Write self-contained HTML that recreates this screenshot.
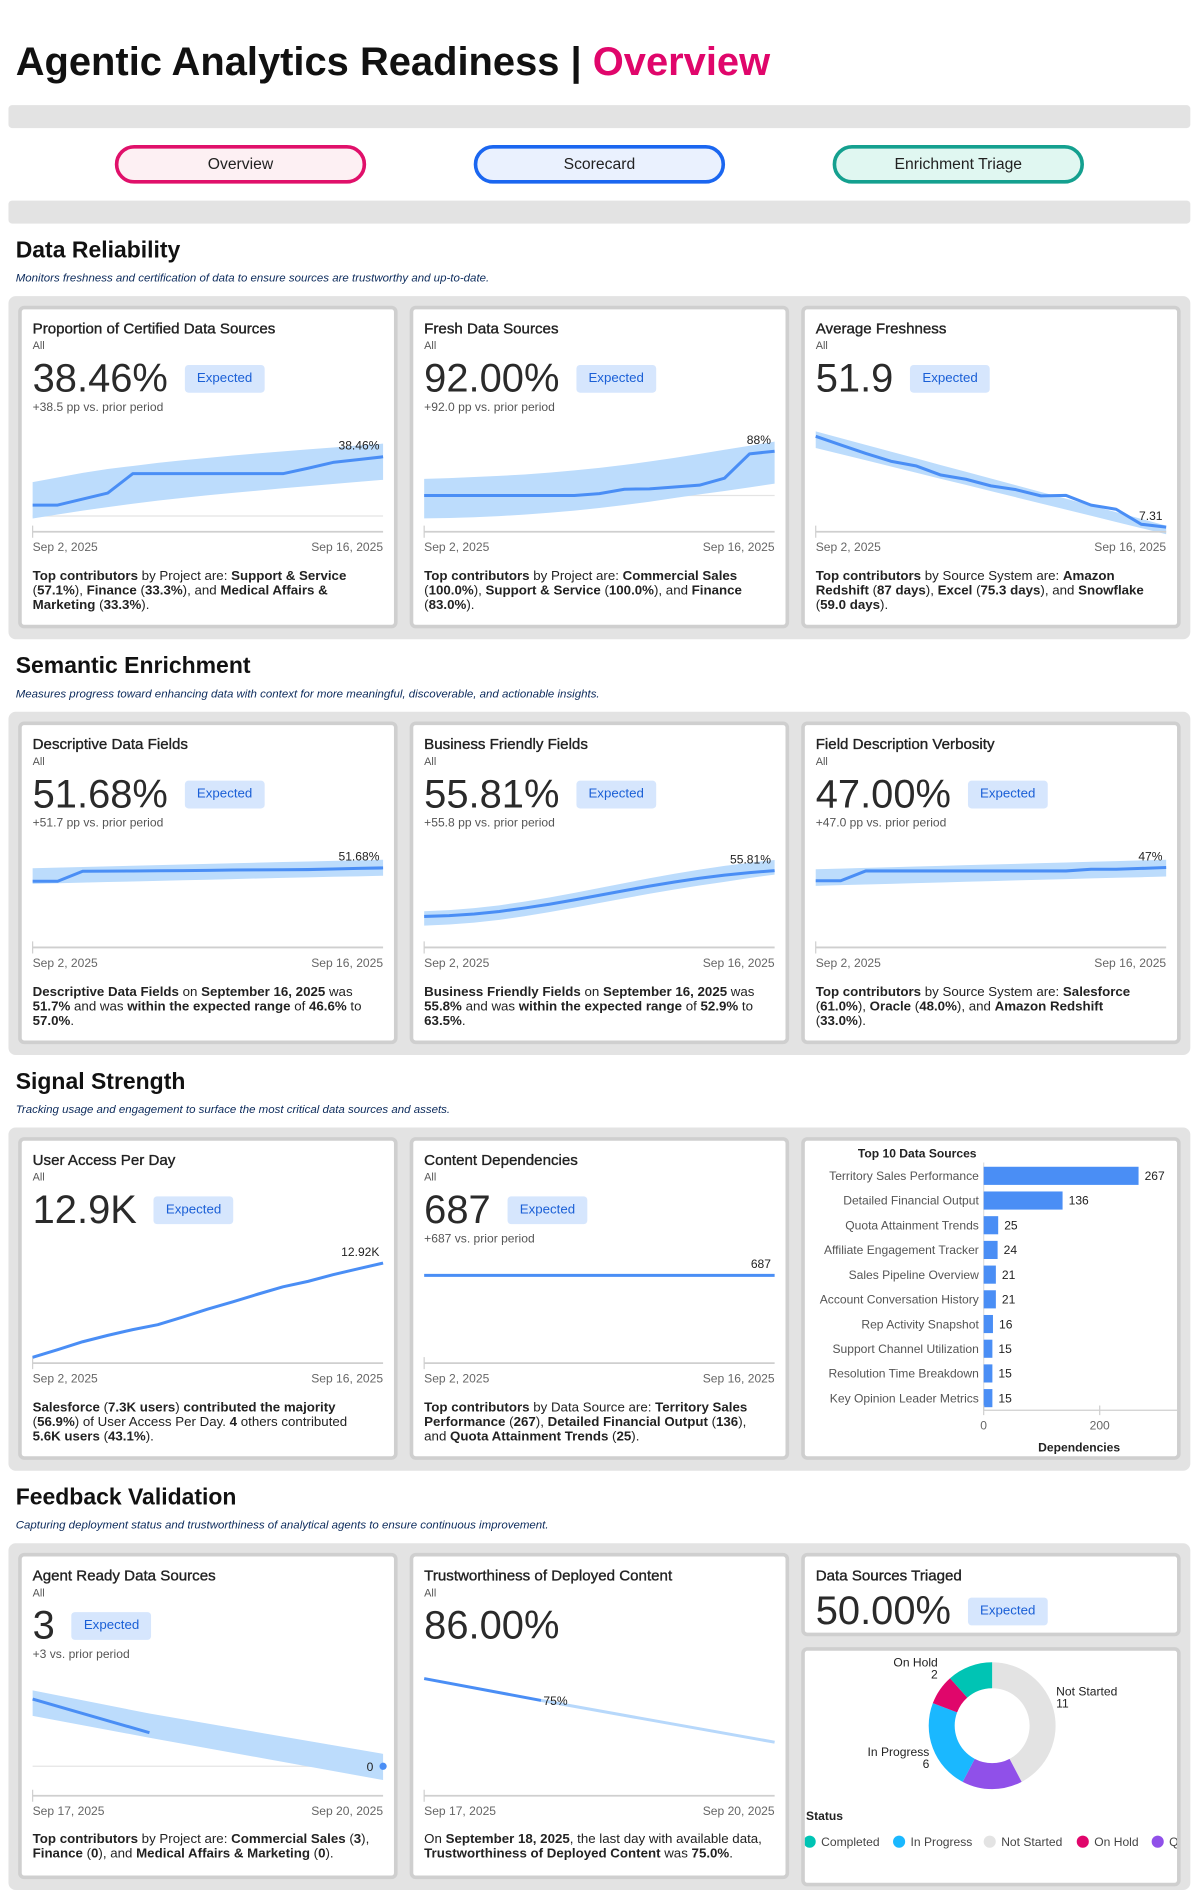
<!DOCTYPE html>
<html><head><meta charset="utf-8"><title>Agentic Analytics Readiness | Overview</title>
<style>
html,body{margin:0;padding:0;background:#fff;width:1200px;height:1896px;overflow:hidden}
#stage{position:absolute;left:0;top:0;width:993px;height:1569px;transform:scale(1.208459);transform-origin:0 0;font-family:"Liberation Sans",Arial,sans-serif;color:#222}
.abs{position:absolute}
.h1{left:13px;top:31px;font-size:33px;font-weight:bold;color:#111;white-space:nowrap;line-height:40px}
.h1 span{color:#e0066b}
.bar{left:7px;width:978px;height:19px;background:#e3e3e3;border-radius:3px}
.btn{top:120px;width:208px;height:32px;box-sizing:border-box;border:3px solid;border-radius:16px;font-size:13px;line-height:26px;text-align:center;color:#222}
.sh{left:13px;font-size:19px;font-weight:bold;line-height:22px;color:#111}
.ss{left:13px;font-size:9.5px;font-style:italic;color:#0b2a5b;line-height:12px}
.sec{left:7px;width:978px;background:#e3e3e3;border-radius:6px}
.card{position:absolute;background:#fff;border:3px solid #cfcfcf;border-radius:5px;box-sizing:border-box;overflow:hidden;width:314px}
.card svg{position:absolute;left:-3px;top:-3px;overflow:hidden}
.ct{position:absolute;left:9px;top:8px;font-size:12.5px;line-height:16px;color:#222;-webkit-text-stroke:0.3px #222;white-space:nowrap}
.ca{position:absolute;left:9px;top:24.5px;font-size:9px;line-height:11px;color:#555}
.cb{position:absolute;left:9px;top:41px;height:32px;display:flex;align-items:center;white-space:nowrap}
.num{font-size:33px;line-height:32px;color:#2a2a2a}
.badge{margin-left:14px;height:23px;padding:0 10px;background:#d6e6fd;border-radius:3px;color:#1a5fd6;font-size:11px;line-height:23px}
.csub{position:absolute;left:9px;top:76px;font-size:10px;line-height:12px;color:#555;white-space:nowrap}
.cd{position:absolute;left:9px;top:215px;font-size:11px;line-height:12px;color:#222;white-space:nowrap}
.cd b{color:#222}
</style></head>
<body>
<div id="stage">
<div class="abs h1">Agentic Analytics Readiness | <span>Overview</span></div>
<div class="abs bar" style="top:87px"></div>
<div class="abs btn" style="left:95px;border-color:#e0106a;background:#fdf0f3">Overview</div>
<div class="abs btn" style="left:392px;border-color:#1a66f0;background:#eaf1fe">Scorecard</div>
<div class="abs btn" style="left:689px;border-color:#14a08f;background:#e0f7f1">Enrichment Triage</div>
<div class="abs bar" style="top:166px"></div>

<!-- Section 1 -->
<div class="abs sh" style="top:197px">Data Reliability</div>
<div class="abs ss" style="top:225px">Monitors freshness and certification of data to ensure sources are trustworthy and up-to-date.</div>
<div class="abs sec" style="top:245px;height:284px"></div>

<div class="card" style="left:15px;top:253px;height:267px">
<div class="ct">Proportion of Certified Data Sources</div>
<div class="ca">All</div>
<div class="cb"><span class="num">38.46%</span><span class="badge">Expected</span></div>
<div class="csub">+38.5 pp vs. prior period</div>
<svg id="c1"></svg>
<div class="cd"><b>Top contributors</b> by Project are: <b>Support &amp; Service</b><br>(<b>57.1%</b>), <b>Finance</b> (<b>33.3%</b>), and <b>Medical Affairs &amp;</b><br><b>Marketing</b> (<b>33.3%</b>).</div>
</div>

<div class="card" style="left:339px;top:253px;height:267px">
<div class="ct">Fresh Data Sources</div>
<div class="ca">All</div>
<div class="cb"><span class="num">92.00%</span><span class="badge">Expected</span></div>
<div class="csub">+92.0 pp vs. prior period</div>
<svg id="c2"></svg>
<div class="cd"><b>Top contributors</b> by Project are: <b>Commercial Sales</b><br>(<b>100.0%</b>), <b>Support &amp; Service</b> (<b>100.0%</b>), and <b>Finance</b><br>(<b>83.0%</b>).</div>
</div>

<div class="card" style="left:663px;top:253px;height:267px">
<div class="ct">Average Freshness</div>
<div class="ca">All</div>
<div class="cb"><span class="num">51.9</span><span class="badge">Expected</span></div>
<svg id="c3"></svg>
<div class="cd"><b>Top contributors</b> by Source System are: <b>Amazon</b><br><b>Redshift</b> (<b>87 days</b>), <b>Excel</b> (<b>75.3 days</b>), and <b>Snowflake</b><br>(<b>59.0 days</b>).</div>
</div>

<!-- Section 2 -->
<div class="abs sh" style="top:541px">Semantic Enrichment</div>
<div class="abs ss" style="top:569px">Measures progress toward enhancing data with context for more meaningful, discoverable, and actionable insights.</div>
<div class="abs sec" style="top:589px;height:284px"></div>

<div class="card" style="left:15px;top:597px;height:267px">
<div class="ct">Descriptive Data Fields</div>
<div class="ca">All</div>
<div class="cb"><span class="num">51.68%</span><span class="badge">Expected</span></div>
<div class="csub">+51.7 pp vs. prior period</div>
<svg id="c4"></svg>
<div class="cd"><b>Descriptive Data Fields</b> on <b>September 16, 2025</b> was<br><b>51.7%</b> and was <b>within the expected range</b> of <b>46.6%</b> to<br><b>57.0%</b>.</div>
</div>

<div class="card" style="left:339px;top:597px;height:267px">
<div class="ct">Business Friendly Fields</div>
<div class="ca">All</div>
<div class="cb"><span class="num">55.81%</span><span class="badge">Expected</span></div>
<div class="csub">+55.8 pp vs. prior period</div>
<svg id="c5"></svg>
<div class="cd"><b>Business Friendly Fields</b> on <b>September 16, 2025</b> was<br><b>55.8%</b> and was <b>within the expected range</b> of <b>52.9%</b> to<br><b>63.5%</b>.</div>
</div>

<div class="card" style="left:663px;top:597px;height:267px">
<div class="ct">Field Description Verbosity</div>
<div class="ca">All</div>
<div class="cb"><span class="num">47.00%</span><span class="badge">Expected</span></div>
<div class="csub">+47.0 pp vs. prior period</div>
<svg id="c6"></svg>
<div class="cd"><b>Top contributors</b> by Source System are: <b>Salesforce</b><br>(<b>61.0%</b>), <b>Oracle</b> (<b>48.0%</b>), and <b>Amazon Redshift</b><br>(<b>33.0%</b>).</div>
</div>

<!-- Section 3 -->
<div class="abs sh" style="top:885px">Signal Strength</div>
<div class="abs ss" style="top:913px">Tracking usage and engagement to surface the most critical data sources and assets.</div>
<div class="abs sec" style="top:933px;height:284px"></div>

<div class="card" style="left:15px;top:941px;height:267px">
<div class="ct">User Access Per Day</div>
<div class="ca">All</div>
<div class="cb"><span class="num">12.9K</span><span class="badge">Expected</span></div>
<svg id="c7"></svg>
<div class="cd"><b>Salesforce</b> (<b>7.3K users</b>) <b>contributed the majority</b><br>(<b>56.9%</b>) of User Access Per Day. <b>4</b> others contributed<br><b>5.6K users</b> (<b>43.1%</b>).</div>
</div>

<div class="card" style="left:339px;top:941px;height:267px">
<div class="ct">Content Dependencies</div>
<div class="ca">All</div>
<div class="cb"><span class="num">687</span><span class="badge">Expected</span></div>
<div class="csub">+687 vs. prior period</div>
<svg id="c8"></svg>
<div class="cd"><b>Top contributors</b> by Data Source are: <b>Territory Sales</b><br><b>Performance</b> (<b>267</b>), <b>Detailed Financial Output</b> (<b>136</b>),<br>and <b>Quota Attainment Trends</b> (<b>25</b>).</div>
</div>

<div class="card" style="left:663px;top:941px;height:267px">
<svg id="bars"></svg>
</div>

<!-- Section 4 -->
<div class="abs sh" style="top:1229px">Feedback Validation</div>
<div class="abs ss" style="top:1257px">Capturing deployment status and trustworthiness of analytical agents to ensure continuous improvement.</div>
<div class="abs sec" style="top:1277px;height:287px"></div>

<div class="card" style="left:15px;top:1285px;height:270px">
<div class="ct">Agent Ready Data Sources</div>
<div class="ca">All</div>
<div class="cb"><span class="num">3</span><span class="badge">Expected</span></div>
<div class="csub">+3 vs. prior period</div>
<svg id="c9"></svg>
<div class="cd" style="top:228px"><b>Top contributors</b> by Project are: <b>Commercial Sales</b> (<b>3</b>),<br><b>Finance</b> (<b>0</b>), and <b>Medical Affairs &amp; Marketing</b> (<b>0</b>).</div>
</div>

<div class="card" style="left:339px;top:1285px;height:270px">
<div class="ct">Trustworthiness of Deployed Content</div>
<div class="ca">All</div>
<div class="cb"><span class="num">86.00%</span></div>
<svg id="c10"></svg>
<div class="cd" style="top:228px">On <b>September 18, 2025</b>, the last day with available data,<br><b>Trustworthiness of Deployed Content</b> was <b>75.0%</b>.</div>
</div>

<div class="card" style="left:663px;top:1285px;height:69px">
<div class="ct">Data Sources Triaged</div>
<div class="cb" style="top:29px"><span class="num">50.00%</span><span class="badge">Expected</span></div>
</div>

<div class="card" style="left:663px;top:1363px;height:198px">
<svg id="donut"></svg>
</div>
</div>

<script>
// ---------- sparkline data ----------
const certifiedVals = [7.1,7.1,11,14.9,27.5,27.5,27.5,27.5,27.5,27.5,27.5,31,34.8,36.6,38.46];
const certifiedHi = [22,25,28,30.5,32.5,34.5,36.2,37.8,39.3,40.7,42,43.3,44.5,45.8,47];
const certifiedLo = [-1.6,1,3.5,5.8,8,10,11.8,13.5,15,16.5,18,19.4,20.8,22.2,23.5];
const freshVals = [76,76,76,76,76,76,76,76.5,77.7,77.8,78.3,78.8,80.7,87.3,88];
const freshHi = [80.5,80.7,81,81.3,81.7,82.2,82.8,83.5,84.3,85.2,86.2,87.3,88.4,89.5,90.6];
const freshLo = [69.8,69.9,70.1,70.4,70.8,71.3,71.9,72.6,73.4,74.3,75.3,76.3,77.2,78.2,79.2];
const freshnessVals = [113,102.9,93.1,84,78.6,67.9,63,55.3,50.9,43.7,44.2,32.9,28.1,10.7,7.31];
const freshnessHi = [118.7,110.9,103,95.2,87.4,79.5,71.7,63.9,56,48.2,40.4,32.5,24.7,16.9,9];
const freshnessLo = [99.4,92.2,85.1,77.9,70.7,63.5,56.4,49.2,42,34.8,27.7,20.5,13.3,6.2,-1];
const descriptiveVals = [43,43,49.5,49.6,49.7,49.8,49.9,50.1,50.3,50.4,50.5,50.6,51,51.4,51.68];
const descriptiveHi = [51.5,51.9,52.3,52.7,53.1,53.5,53.9,54.3,54.7,55.1,55.5,55.9,56.3,56.6,57];
const descriptiveLo = [41.3,41.7,42.1,42.5,42.8,43.2,43.6,44,44.4,44.8,45.2,45.5,45.9,46.2,46.6];
const businessVals = [22.4,23,24.2,26,28.5,31.3,34.5,37.8,41.2,44.5,47.5,50.2,52.5,54.3,55.81];
const businessHi = [26.2,27,28.5,30.5,33.2,36.2,39.6,43.1,46.7,50.2,53.5,56.5,59.2,61.5,63.5];
const businessLo = [15.7,16.5,17.9,19.9,22.5,25.5,28.8,32.2,35.6,38.9,42,44.9,47.6,50.4,52.9];
const verbosityVals = [39.2,39.2,45,45,45,45,45,45,45,45,45,46,46,46.5,47];
const verbosityHi = [46,46.4,46.8,47.2,47.6,48,48.4,48.8,49.2,49.6,50,50.4,50.8,51.2,51.6];
const verbosityLo = [36.2,36.6,37,37.4,37.8,38.2,38.6,39,39.4,39.8,40.2,40.6,41,41.3,41.7];
const userAccessVals = [7,7.48,7.98,8.38,8.74,9.05,9.53,10.03,10.49,10.97,11.43,11.77,12.19,12.56,12.92];
const dependencyVals = [687,687,687,687,687,687,687,687,687,687,687,687,687,687,687];
const agentReadyVals = [2,1,null,0];
const agentReadyHi = [2.26,1.57,0.97,0.37];
const agentReadyLo = [1.5,0.85,0.22,-0.41];
const trustVals = [97,75,null,null];
const trustProjection = [null,75,54,33];
const dateLabels15 = ["Sep 2, 2025","Sep 16, 2025"];
const dateLabels4 = ["Sep 17, 2025","Sep 20, 2025"];
const endLabels = ["38.46%","88%","7.31","51.68%","55.81%","47%","12.92K","687","0","75%"];

// ---------- bar chart data ----------
const sourceNames = ["Territory Sales Performance","Detailed Financial Output","Quota Attainment Trends","Affiliate Engagement Tracker","Sales Pipeline Overview","Account Conversation History","Rep Activity Snapshot","Support Channel Utilization","Resolution Time Breakdown","Key Opinion Leader Metrics"];
const sourceDeps = [267,136,25,24,21,21,16,15,15,15];
const depTicks = [0,200];

// ---------- donut data ----------
const statusNames = ["Completed","In Progress","Not Started","On Hold","Q"];
const statusCounts = [3,6,11,2,4];
const statusArcOrder = ["Not Started","Q","In Progress","On Hold","Completed"];
const statusLabelled = ["On Hold","Not Started","In Progress"];

const NS = "http://www.w3.org/2000/svg";
const BLUE = "#4a8ef5", BAND = "#bcdcfc";
function mk(parent, tag, attrs){ const e=document.createElementNS(NS,tag); for(const k in attrs) e.setAttribute(k,attrs[k]); parent.appendChild(e); return e; }

function spark(id, cx, cy, cfg){
  const svg=document.getElementById(id);
  svg.setAttribute('width',314); svg.setAttribute('height',cfg.h||267);
  svg.setAttribute('viewBox',cx+' '+cy+' 314 '+(cfg.h||267));
  const n=cfg.vals.length, x0=cx+12, x1=cx+302;
  const xs=i=>x0+i*(x1-x0)/(n-1);
  const ys=v=>cy+cfg.p0+(v-cfg.d0)*(cfg.p1-cfg.p0)/(cfg.d1-cfg.d0);
  if(cfg.grid!==undefined){
    const g=mk(svg,'line',{x1:x0,x2:x1,y1:ys(cfg.grid),y2:ys(cfg.grid),stroke:'#e4e4e4','stroke-width':1});
     
  }
  if(cfg.hi&&cfg.hi.length){
    let pts=cfg.hi.map((v,i)=>xs(i)+','+ys(v));
    pts=pts.concat(cfg.lo.map((v,i)=>xs(i)+','+ys(v)).reverse());
    const b=mk(svg,'polygon',{points:pts.join(' '),fill:BAND});
     
  }
  const ax=cy+cfg.axis;
  const a=mk(svg,'line',{x1:x0,x2:x1,y1:ax,y2:ax,stroke:'#cfcfcf','stroke-width':1.5});
   
  mk(svg,'line',{x1:x0,x2:x0,y1:ax-5,y2:ax+5,stroke:'#cfcfcf','stroke-width':1});
  const d1=mk(svg,'text',{x:x0,y:ax+16,'font-size':10,fill:'#666'}); d1.textContent=cfg.dates[0];
   
  const d2=mk(svg,'text',{x:x1,y:ax+16,'font-size':10,fill:'#666','text-anchor':'end'}); d2.textContent=cfg.dates[1];
   
  function pathOf(arr){ let d='',pen=false; arr.forEach((v,i)=>{ if(v===null){pen=false;return;} d+=(pen?'L':'M')+xs(i)+' '+ys(v)+' '; pen=true;}); return d; }
  if(cfg.proj){
    const p=mk(svg,'path',{d:pathOf(cfg.proj),fill:'none',stroke:'#b7d8fb','stroke-width':2.5});
     
  }
  const l=mk(svg,'path',{d:pathOf(cfg.vals),fill:'none',stroke:BLUE,'stroke-width':2.5,'stroke-linejoin':'round'});
   
  let li=n-1; while(cfg.vals[li]===null) li--;
  if(cfg.labelIdx!==undefined) li=cfg.labelIdx;
  if(cfg.dot){
    const c=mk(svg,'circle',{cx:xs(li),cy:ys(cfg.vals[li]),r:3,fill:BLUE});
     
  }
  let tx,ty,anchor;
  if(cfg.labelMode==='side'){ tx=xs(li)-8; ty=ys(cfg.vals[li])+4; anchor='end'; }
  else if(cfg.labelMode==='after'){ tx=xs(li)+2; ty=ys(cfg.vals[li])+4; anchor='start'; }
  else { tx=xs(li)-3; ty=ys(cfg.vals[li])-6; anchor='end'; }
  const t=mk(svg,'text',{x:tx,y:ty,'font-size':10,fill:'#222','text-anchor':anchor}); t.textContent=cfg.label;
   
}

spark('c1',15,253,{vals:certifiedVals,hi:certifiedHi,lo:certifiedLo,d0:0,d1:38.46,p0:174,p1:125,grid:0,axis:187,dates:dateLabels15,label:endLabels[0]});
spark('c2',339,253,{vals:freshVals,hi:freshHi,lo:freshLo,d0:76,d1:88,p0:157,p1:120.4,grid:76,axis:187,dates:dateLabels15,label:endLabels[1]});
spark('c3',663,253,{vals:freshnessVals,hi:freshnessHi,lo:freshnessLo,d0:0,d1:7.31,p0:188.4,p1:183.2,axis:187,dates:dateLabels15,label:endLabels[2]});
spark('c4',15,597,{vals:descriptiveVals,hi:descriptiveHi,lo:descriptiveLo,d0:0,d1:51.68,p0:186.8,p1:121.2,axis:187,dates:dateLabels15,label:endLabels[3]});
spark('c5',339,597,{vals:businessVals,hi:businessHi,lo:businessLo,d0:0,d1:55.81,p0:186.8,p1:123.4,axis:187,dates:dateLabels15,label:endLabels[4]});
spark('c6',663,597,{vals:verbosityVals,hi:verbosityHi,lo:verbosityLo,d0:0,d1:47,p0:186.8,p1:120.9,axis:187,dates:dateLabels15,label:endLabels[5]});
spark('c7',15,941,{vals:userAccessVals,d0:7,d1:12.92,p0:182.2,p1:104.2,axis:187,dates:dateLabels15,label:endLabels[6]});
spark('c8',339,941,{vals:dependencyVals,d0:0,d1:687,p0:187,p1:114.4,axis:187,dates:dateLabels15,label:endLabels[7]});
spark('c9',15,1285,{h:270,vals:agentReadyVals,hi:agentReadyHi,lo:agentReadyLo,d0:0,d1:2,p0:176.6,p1:121,grid:0,axis:201,dates:dateLabels4,label:endLabels[8],dot:true,labelMode:'side'});
spark('c10',339,1285,{h:270,vals:trustVals,proj:trustProjection,d0:75,d1:97,p0:122.1,p1:104,axis:201,dates:dateLabels4,label:endLabels[9],labelIdx:1,labelMode:'after'});

// ---------- bar chart ----------
(function(){
  const svg=document.getElementById('bars');
  svg.setAttribute('width',314); svg.setAttribute('height',267);
  svg.setAttribute('viewBox','663 941 314 267');
  const bx0=814, px=0.48, row0=973, step=20.44, bh=15;
  const xs=v=>bx0+v*px, ys=i=>row0+i*step;
  const title=mk(svg,'text',{x:759,y:958,'font-size':10,'font-weight':'bold','text-anchor':'middle',fill:'#222'});
  title.textContent='Top 10 Data Sources';
   
  mk(svg,'line',{x1:bx0,x2:bx0,y1:962,y2:1167,stroke:'#e0e0e0','stroke-width':1});
  sourceDeps.forEach((v,i)=>{
    const r=mk(svg,'rect',{x:xs(0),y:ys(i)-bh/2,width:xs(v)-xs(0),height:bh,fill:BLUE});
     
    const lb=mk(svg,'text',{x:bx0-4,y:ys(i)+3.5,'font-size':10,fill:'#555','text-anchor':'end'}); lb.textContent=sourceNames[i];
     
    const vl=mk(svg,'text',{x:xs(v)+5,y:ys(i)+3.5,'font-size':10,fill:'#222'}); vl.textContent=v;
     
  });
  const ax=mk(svg,'line',{x1:bx0,x2:977,y1:1167,y2:1167,stroke:'#cfcfcf','stroke-width':1});
   
  depTicks.forEach(t=>{
    mk(svg,'line',{x1:xs(t),x2:xs(t),y1:1163,y2:1171,stroke:'#cfcfcf','stroke-width':1});
    const tl=mk(svg,'text',{x:xs(t),y:1183,'font-size':10,fill:'#666','text-anchor':'middle'}); tl.textContent=t;
     
  });
  const at=mk(svg,'text',{x:893,y:1201,'font-size':10,'font-weight':'bold','text-anchor':'middle',fill:'#222'}); at.textContent='Dependencies';
   
})();

// ---------- donut ----------
(function(){
  const svg=document.getElementById('donut');
  svg.setAttribute('width',314); svg.setAttribute('height',198);
  svg.setAttribute('viewBox','663 1363 314 198');
  const colors={"Completed":"#00c4b4","In Progress":"#1ab8ff","Not Started":"#e3e3e3","On Hold":"#e0066b","Q":"#9050e9"};
  const cx=821, cy=1428, R=52.5, r=31;
  const total=statusCounts.reduce((a,b)=>a+b,0);
  let ang=0;
  const pt=(a,rad)=>[cx+rad*Math.sin(a), cy-rad*Math.cos(a)];
  statusArcOrder.forEach(name=>{
    const v=statusCounts[statusNames.indexOf(name)];
    const a0=ang, a1=ang+v/total*2*Math.PI; ang=a1;
    const large=(a1-a0)>Math.PI?1:0;
    const p1=pt(a0,R),p2=pt(a1,R),p3=pt(a1,r),p4=pt(a0,r);
    const p=mk(svg,'path',{d:`M${p1} A${R} ${R} 0 ${large} 1 ${p2} L${p3} A${r} ${r} 0 ${large} 0 ${p4} Z`,fill:colors[name]});
     
    if(statusLabelled.includes(name)){
      const mid=(a0+a1)/2; const right=Math.sin(mid)>0;
      let lx=right?cx+60:cx-50, ly=cy-20;
      if(name==='On Hold'){lx=776;ly=1379;}
      if(name==='Not Started'){lx=874;ly=1403;}
      if(name==='In Progress'){lx=769;ly=1453;}
      const t=mk(svg,'text',{x:lx,y:ly,'font-size':10,fill:'#222','text-anchor':right?'start':'end'});
      t.textContent=name;  
      const t2=mk(svg,'text',{x:lx,y:ly+10,'font-size':10,fill:'#222','text-anchor':right?'start':'end'});
      t2.textContent=v;  
    }
  });
  const st=mk(svg,'text',{x:667,y:1506,'font-size':10,'font-weight':'bold',fill:'#222'}); st.textContent='Status';
   
  const legendX=[670,744,819,896,958];
  statusNames.forEach((name,i)=>{
    const c=mk(svg,'circle',{cx:legendX[i],cy:1524,r:5,fill:colors[name]});
     
    const t=mk(svg,'text',{x:legendX[i]+9.5,y:1527.5,'font-size':10,fill:'#444'}); t.textContent=name;
     
  });
})();
</script>
</body></html>
